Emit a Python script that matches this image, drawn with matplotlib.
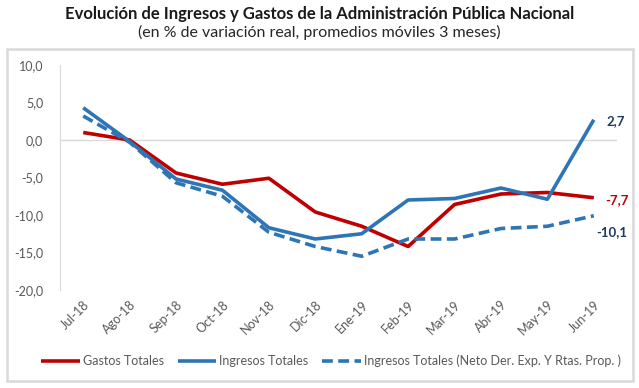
import matplotlib
matplotlib.use("Agg")
import matplotlib.pyplot as plt
from matplotlib.patches import Rectangle
from matplotlib.ticker import FuncFormatter

months = ["Jul-18", "Ago-18", "Sep-18", "Oct-18", "Nov-18", "Dic-18",
          "Ene-19", "Feb-19", "Mar-19", "Abr-19", "May-19", "Jun-19"]
gastos = [1.0, 0.0, -4.4, -5.9, -5.1, -9.6, -11.5, -14.2, -8.6, -7.2, -7.0, -7.7]
ingresos = [4.3, -0.2, -5.2, -6.7, -11.7, -13.2, -12.5, -8.0, -7.8, -6.4, -7.9, 2.7]
ingresos_neto = [3.2, -0.3, -5.7, -7.5, -12.3, -14.2, -15.5, -13.2, -13.2, -11.8, -11.5, -10.1]
yticks = [10, 5, 0, -5, -10, -15, -20]

RED = "#C00000"
BLUE = "#2E75B6"
NAVY = "#1F3864"
GREY = "#D9D9D9"
TXT = "#595959"

plt.rcParams['font.family'] = ['Lato', 'DejaVu Sans']

fig = plt.figure(figsize=(6.39, 3.88), dpi=100)
W, H = 639, 388

# frame
fig.patches.append(Rectangle((7 / W, (H - 381) / H), (633 - 7) / W, (381 - 49) / H,
                             transform=fig.transFigure, fill=False,
                             edgecolor=GREY, linewidth=1.8))

fig.text(0.5, (H - 14) / H, "Evolución de Ingresos y Gastos de la Administración Pública Nacional",
         ha="center", va="center", fontsize=12, fontweight="bold", color="#1a1a1a")
fig.text(0.5, (H - 32) / H, "(en % de variación real, promedios móviles 3 meses)",
         ha="center", va="center", fontsize=11.5, color="#262626")

ax = fig.add_axes([60 / W, (H - 290) / H, (617 - 60) / W, (290 - 65) / H])
x = list(range(len(months)))
ax.plot(x, gastos, color=RED, lw=2.6, label="Gastos Totales", solid_capstyle="butt")
ax.plot(x, ingresos, color=BLUE, lw=2.6, label="Ingresos Totales", solid_capstyle="butt")
ax.plot(x, ingresos_neto, color=BLUE, lw=2.6, ls=(0, (3, 1.5)),
        label="Ingresos Totales (Neto Der. Exp. Y Rtas. Prop. )")

ax.set_xlim(-0.5, len(months) - 0.5)
ax.set_ylim(-20, 10)
ax.set_yticks(yticks)
ax.yaxis.set_major_formatter(FuncFormatter(lambda v, p: f"{v:.1f}".replace(".", ",")))
ax.set_xticks(x)
ax.set_xticklabels(months, rotation=45, ha="right", rotation_mode="anchor")
ax.tick_params(axis="both", length=0, labelsize=9, colors=TXT)
ax.tick_params(axis="y", pad=12)
ax.tick_params(axis="x", pad=6)
for s in ["top", "right", "bottom"]:
    ax.spines[s].set_visible(False)
ax.spines["left"].set_color(GREY)
ax.axhline(0, color=GREY, lw=1, zorder=0)

ax.annotate("2,7", (x[-1], ingresos[-1]), xytext=(9, -1), textcoords="offset points",
            ha="left", va="center", fontsize=9.5, fontweight="bold", color=NAVY)
ax.annotate("-7,7", (x[-1], gastos[-1]), xytext=(8.5, -1.5), textcoords="offset points",
            ha="left", va="center", fontsize=9.5, fontweight="bold", color=RED)
ax.annotate("-10,1", (x[-1], ingresos_neto[-1]), xytext=(2, -12), textcoords="offset points",
            ha="left", va="center", fontsize=9.5, fontweight="bold", color=NAVY)

fig.legend(loc="center", bbox_to_anchor=(331 / W, (H - 361) / H), ncol=3, frameon=False,
           fontsize=9, handlelength=3.1, handletextpad=0.25, columnspacing=1.1,
           labelcolor=TXT)

fig.savefig("out.png", dpi=100)
